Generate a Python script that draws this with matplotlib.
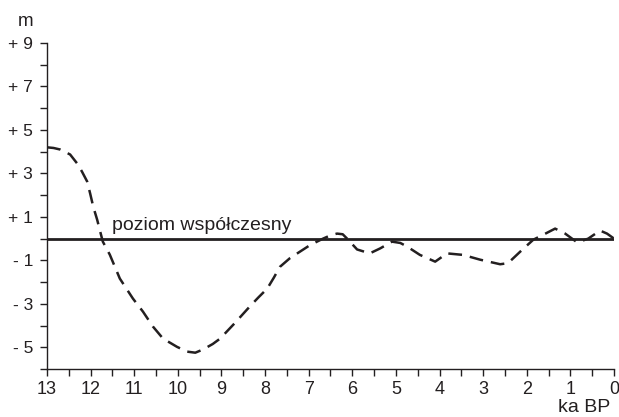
import matplotlib.pyplot as plt
import numpy as np

plt.rcParams['font.family'] = ['Liberation Sans', 'DejaVu Sans']

INK = '#231f20'

# age (ka BP) and sea level (m)
age = [13.0, 12.85, 12.7, 12.47, 12.31, 12.2, 12.08, 12.01, 11.94, 11.85, 11.78, 11.72,
       11.56, 11.33, 11.03, 10.8, 10.57, 10.34, 10.02, 9.79, 9.6, 9.42, 9.2, 9.03,
       8.7, 8.34, 8.15, 7.95, 7.8, 7.66, 7.43, 7.2, 6.97, 6.67, 6.5, 6.35,
       6.22, 6.12, 5.89, 5.6, 5.36, 5.09, 4.9, 4.74, 4.45, 4.1, 3.83, 3.46,
       3.07, 2.61, 2.43, 2.15, 1.85, 1.62, 1.35, 1.12, 0.84, 0.59, 0.32, 0.16, 0.0]
level = [4.2, 4.17, 4.1, 3.87, 3.46, 3.09, 2.63, 2.07, 1.47, 0.87, 0.32, -0.14,
         -0.74, -1.84, -2.76, -3.36, -4.05, -4.6, -4.98, -5.2, -5.25, -5.1, -4.85, -4.6,
         -3.9, -3.1, -2.7, -2.3, -1.8, -1.3, -0.9, -0.6, -0.3, 0.0, 0.15, 0.23,
         0.2, 0.0, -0.5, -0.68, -0.45, -0.14, -0.2, -0.37, -0.75, -1.06, -0.68, -0.75,
         -0.97, -1.18, -1.13, -0.6, -0.05, 0.18, 0.46, 0.23, -0.18, 0.0, 0.37, 0.23, 0.0]

y_major = [9, 7, 5, 3, 1, -1, -3, -5]
y_labels = ['+ 9', '+ 7', '+ 5', '+ 3', '+ 1', '- 1', '- 3', '- 5']
x_major = list(range(13, -1, -1))

fig = plt.figure(figsize=(6.19, 4.17), dpi=100)
ax = fig.add_axes([47 / 619, 48 / 417, 567 / 619, 326 / 417])

ax.axhline(0, color=INK, lw=2.0, zorder=2)
ax.plot(age, level, color=INK, lw=1.8, dashes=(5.5, 3.2), zorder=3)

ax.set_xlim(13, 0)
ax.set_ylim(-6, 9)

ax.spines['top'].set_visible(False)
ax.spines['right'].set_visible(False)
for s in ('left', 'bottom'):
    ax.spines[s].set_color(INK)
    ax.spines[s].set_linewidth(1.0)

ax.set_yticks(y_major)
ax.set_yticklabels(y_labels)
ax.set_yticks(np.arange(-6, 9, 2), minor=True)
ax.set_xticks(x_major)
ax.set_xticklabels([str(v) for v in x_major])
ax.set_xticks(np.arange(12.5, 0, -1.0), minor=True)

ax.tick_params(axis='y', which='both', direction='out', length=5, width=1, color=INK,
               labelsize=12.5, pad=5, labelcolor=INK)
ax.tick_params(axis='x', which='both', direction='out', length=5, width=1, color=INK,
               labelsize=13, pad=4, labelcolor=INK)

ax.text(11.52, 0.41, 'poziom współczesny', fontsize=14, color=INK, va='baseline')

fig.text(26 / 619, 1 - 21 / 417, 'm', fontsize=13.5, color=INK, ha='center', va='center')
fig.text(584 / 619, 1 - 408 / 417, 'ka BP', fontsize=14, color=INK, ha='center', va='center')

fig.savefig('out.png', dpi=100)
